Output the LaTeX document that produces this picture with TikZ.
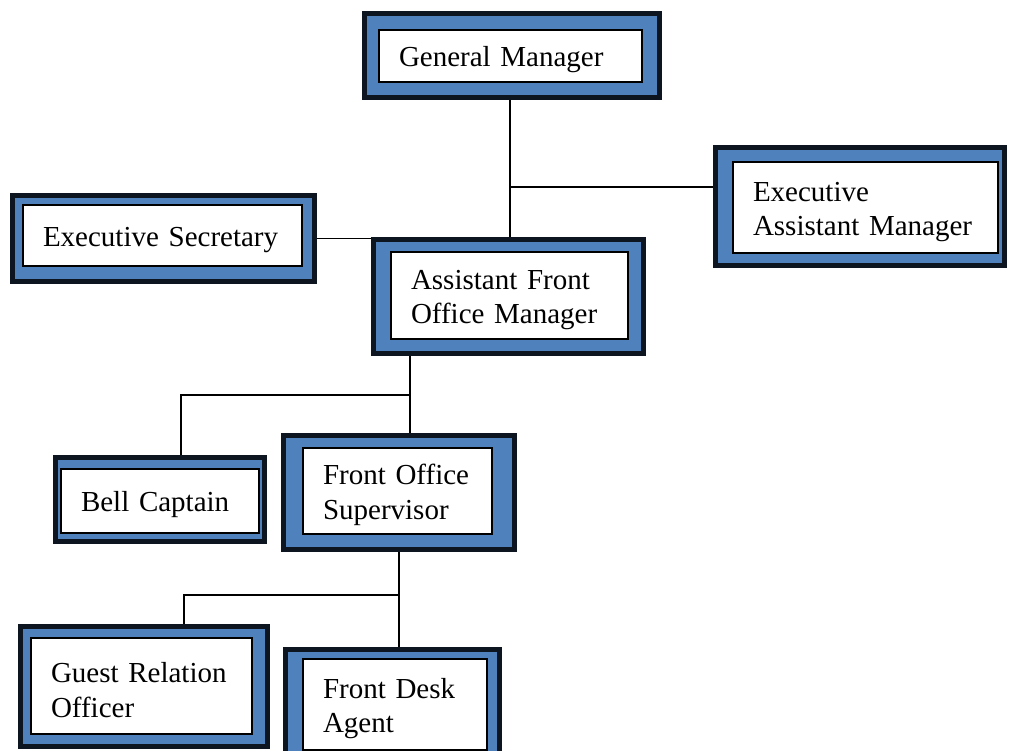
\documentclass[tikz,border=0pt]{standalone}
\usepackage{fontspec}
\setmainfont{Liberation Serif}
\usetikzlibrary{positioning}
\definecolor{chartblue}{HTML}{4F81BD}
\definecolor{chartink}{HTML}{0D1620}

\begin{document}
\begin{tikzpicture}[
        x=1pt,y=-1pt,
        frame/.style={draw=chartink,fill=chartblue,line width=5pt,inner sep=0pt},
        post/.style={draw=black,fill=white,line width=1.1pt,align=left,inner xsep=20pt,
          inner ysep=0pt,font=\fontsize{29}{34.5}\selectfont,
          execute at begin node={\rule{0pt}{28pt}}},
        link/.style={draw=black,line width=1.6pt}
      ]
        \fill[white] (0,0) rectangle (1009,751);
        \useasboundingbox (0,0) rectangle (1009,751);
        \node[frame,minimum width=295pt,minimum height=84pt] (gm) at (512,55.5) {};
        \node[post,minimum width=263pt,minimum height=52pt,text width=223pt] (gmtext) at (510.5,56) {General Manager};
        \node[frame,minimum width=302pt,minimum height=86pt] (es) at (163.5,238.5) {};
        \node[post,minimum width=279pt,minimum height=61pt,text width=239pt] (estext) at (162.5,235.5) {Executive Secretary};
        \node[frame,minimum width=289pt,minimum height=118pt] (eam) at (860,206.5) {};
        \node[post,minimum width=265pt,minimum height=91pt,text width=225pt] (eamtext) at (865.5,207.5) {Executive\\Assistant Manager};
        \node[frame,minimum width=270pt,minimum height=114pt] (afom) at (508.5,296.5) {};
        \node[post,minimum width=237pt,minimum height=87pt,text width=197pt] (afomtext) at (509.5,295.5) {Assistant Front\\Office Manager};
        \node[frame,minimum width=209pt,minimum height=84pt] (bell) at (160,499.5) {};
        \node[post,minimum width=198pt,minimum height=64pt,text width=158pt] (belltext) at (160,501) {Bell Captain};
        \node[frame,minimum width=231pt,minimum height=114pt] (fos) at (399,492.5) {};
        \node[post,minimum width=189pt,minimum height=86pt,text width=149pt] (fostext) at (397.5,491) {Front Office\\Supervisor};
        \node[frame,minimum width=247pt,minimum height=120pt] (guest) at (144,686.5) {};
        \node[post,minimum width=221pt,minimum height=96pt,text width=181pt] (guesttext) at (141.5,686) {Guest Relation\\Officer};
        \node[frame,minimum width=214pt,minimum height=110pt] (desk) at (392.5,704.5) {};
        \node[post,minimum width=184pt,minimum height=91pt,text width=144pt] (desktext) at (395,704.5) {Front Desk\\Agent};
        \coordinate (gmtrunk) at (510,187);
        \coordinate (afomjoin) at (410,395);
        \coordinate (bellturn) at (181,395);
        \coordinate (fosjoin) at (399,595);
        \coordinate (guestturn) at (184,595);
        \draw[link] (gmtrunk |- gm.south) -- (gmtrunk |- afom.north);
        \draw[link] (gmtrunk) -- (gmtrunk -| eam.west);
        \draw[link] (es.east) -- (es.east -| afom.west);
        \draw[link] (afomjoin |- afom.south) -- (afomjoin |- fos.north);
        \draw[link] (afomjoin) -- (bellturn) -- (bellturn |- bell.north);
        \draw[link] (fosjoin |- fos.south) -- (fosjoin |- desk.north);
        \draw[link] (fosjoin) -- (guestturn) -- (guestturn |- guest.north);
      \end{tikzpicture}
\end{document}
